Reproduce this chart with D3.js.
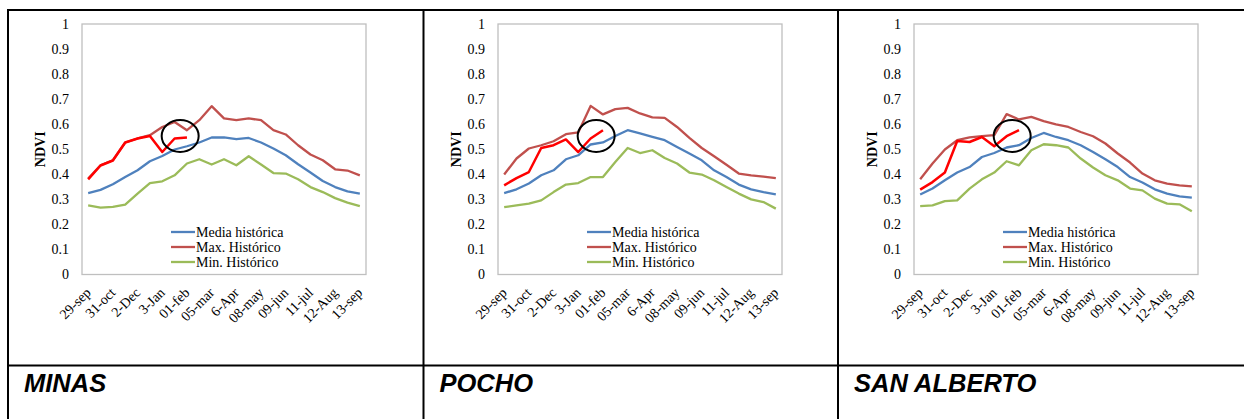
<!DOCTYPE html>
<html>
<head>
<meta charset="utf-8">
<script src="https://cdn.jsdelivr.net/npm/d3@7/dist/d3.min.js"></script>
<style>
  html, body { margin: 0; padding: 0; background: #fff; }
  svg { display: block; }
</style>
</head>
<body>
<svg id="chart" width="1244" height="419"></svg>
<script>
// ---- Data ----
const tickLabels = ["29-sep","31-oct","2-Dec","3-Jan","01-feb","05-mar","6-Apr","08-may","09-jun","11-jul","12-Aug","13-sep"];
const yTicks = [0,0.1,0.2,0.3,0.4,0.5,0.6,0.7,0.8,0.9,1];
const panelNames = ["MINAS","POCHO","SAN ALBERTO"];
const seriesNames = ["Media histórica","Max. Histórico","Min. Histórico"];

const minasMedia = [0.325,0.338,0.360,0.389,0.416,0.452,0.473,0.499,0.512,0.527,0.547,0.547,0.540,0.545,0.527,0.503,0.476,0.440,0.407,0.373,0.349,0.332,0.323];
const minasMax   = [0.383,0.436,0.456,0.527,0.543,0.556,0.589,0.609,0.576,0.616,0.672,0.623,0.616,0.623,0.616,0.576,0.559,0.516,0.479,0.456,0.420,0.415,0.396];
const minasMin   = [0.276,0.267,0.270,0.279,0.323,0.365,0.372,0.396,0.443,0.460,0.439,0.460,0.436,0.472,0.439,0.405,0.403,0.380,0.349,0.329,0.305,0.287,0.273];
const minasActual= [0.380,0.435,0.455,0.527,0.543,0.553,0.489,0.543,0.547];

const pochoMedia = [0.325,0.340,0.363,0.396,0.416,0.460,0.476,0.519,0.527,0.553,0.576,0.563,0.549,0.536,0.509,0.483,0.456,0.416,0.389,0.359,0.340,0.329,0.320];
const pochoMax   = [0.399,0.463,0.503,0.516,0.532,0.560,0.567,0.673,0.639,0.660,0.665,0.643,0.627,0.625,0.589,0.545,0.505,0.472,0.438,0.403,0.396,0.391,0.385];
const pochoMin   = [0.269,0.276,0.283,0.296,0.329,0.359,0.365,0.389,0.389,0.449,0.505,0.485,0.496,0.465,0.443,0.407,0.399,0.376,0.349,0.323,0.300,0.289,0.263];
const pochoActual= [0.356,0.385,0.409,0.505,0.516,0.539,0.489,0.543,0.576];

const sanAlbertoMedia = [0.319,0.343,0.376,0.407,0.429,0.469,0.485,0.507,0.516,0.545,0.565,0.549,0.536,0.516,0.489,0.460,0.429,0.389,0.367,0.340,0.323,0.312,0.307];
const sanAlbertoMax   = [0.380,0.443,0.499,0.536,0.547,0.552,0.556,0.640,0.619,0.629,0.612,0.599,0.589,0.569,0.552,0.523,0.483,0.447,0.403,0.376,0.363,0.356,0.352];
const sanAlbertoMin   = [0.273,0.276,0.293,0.296,0.343,0.380,0.407,0.452,0.436,0.496,0.520,0.516,0.507,0.463,0.427,0.396,0.376,0.343,0.336,0.303,0.283,0.280,0.252];
const sanAlbertoActual= [0.339,0.369,0.407,0.533,0.529,0.549,0.512,0.552,0.576];

// annotation ellipse (category index, NDVI value)
const circleAt = [7.45, 0.553];

// ---- Layout / style ----
const panels = [
  {name: panelNames[0], left: 82,  media: minasMedia, max: minasMax, min: minasMin, actual: minasActual},
  {name: panelNames[1], left: 498, media: pochoMedia, max: pochoMax, min: pochoMin, actual: pochoActual},
  {name: panelNames[2], left: 914, media: sanAlbertoMedia, max: sanAlbertoMax, min: sanAlbertoMin, actual: sanAlbertoActual}
];
const cellLefts = [8, 423.5, 838];
const colors = {media: "#4f81bd", max: "#c0504d", min: "#9bbb59", actual: "#ff0000"};
const plotW = 284, plotTop = 24, plotBottom = 274.5;
const serif = "'Liberation Serif','Times New Roman',serif";
const sans = "'Liberation Sans',Arial,sans-serif";

const svg = d3.select("#chart");

// table borders
const tbl = svg.append("g").attr("stroke", "#000").attr("stroke-width", 2);
tbl.append("line").attr("x1", 7).attr("x2", 1244).attr("y1", 10).attr("y2", 10);
tbl.append("line").attr("x1", 7).attr("x2", 1244).attr("y1", 365.5).attr("y2", 365.5);
cellLefts.forEach(x => tbl.append("line").attr("x1", x).attr("x2", x).attr("y1", 9).attr("y2", 419));

const n = minasMedia.length;
const y = d3.scaleLinear().domain([0, 1]).range([plotBottom, plotTop]);

panels.forEach((p, pi) => {
  const x = d3.scaleLinear().domain([-0.5, n - 0.5]).range([p.left, p.left + plotW]);
  const g = svg.append("g");

  // plot frame
  g.append("rect").attr("x", p.left).attr("y", plotTop)
    .attr("width", plotW).attr("height", plotBottom - plotTop)
    .attr("fill", "none").attr("stroke", "#bfbfbf").attr("stroke-width", 1.3);

  // y axis
  const yAxis = d3.axisLeft(y).tickValues(yTicks).tickSize(0).tickPadding(13)
    .tickFormat(d => d === 0 ? "0" : d === 1 ? "1" : d3.format(".1f")(d));
  const ya = g.append("g").attr("transform", `translate(${p.left},0)`).call(yAxis);
  ya.select(".domain").remove();
  ya.selectAll("text").attr("font-family", serif).attr("font-size", 14).attr("fill", "#000");

  // y title
  g.append("text")
    .attr("transform", `translate(${p.left - 37},${(plotTop + plotBottom) / 2}) rotate(-90)`)
    .attr("text-anchor", "middle")
    .attr("font-family", serif).attr("font-size", 14).attr("font-weight", "bold")
    .text("NDVI");

  // x axis
  const xAxis = d3.axisBottom(x).tickValues(d3.range(0, n, 2)).tickSize(0)
    .tickFormat((d, i) => tickLabels[i]);
  const xa = g.append("g").attr("transform", `translate(0,${plotBottom})`).call(xAxis);
  xa.select(".domain").remove();
  xa.selectAll("text")
    .attr("font-family", serif).attr("font-size", 14).attr("fill", "#000")
    .attr("text-anchor", "end")
    .attr("y", 0).attr("dy", 0)
    .attr("transform", "translate(3,19) rotate(-45)");

  // lines
  const line = d3.line().x((d, i) => x(i)).y(d => y(d));
  [["min", p.min], ["max", p.max], ["media", p.media]].forEach(([k, vals]) => {
    g.append("path").datum(vals).attr("d", line)
      .attr("fill", "none").attr("stroke", colors[k]).attr("stroke-width", 2.3)
      .attr("stroke-linejoin", "round");
  });
  g.append("path").datum(p.actual).attr("d", line)
    .attr("fill", "none").attr("stroke", colors.actual).attr("stroke-width", 2.5)
    .attr("stroke-linejoin", "round");

  // ellipse annotation
  g.append("ellipse")
    .attr("cx", x(circleAt[0])).attr("cy", y(circleAt[1]))
    .attr("rx", 18.5).attr("ry", 16)
    .attr("fill", "none").attr("stroke", "#000").attr("stroke-width", 2);

  // legend
  const lg = g.append("g").attr("transform", `translate(${p.left + 89},${232})`);
  ["media", "max", "min"].forEach((k, i) => {
    const row = lg.append("g").attr("transform", `translate(0,${i * 15})`);
    row.append("line").attr("x1", 0).attr("x2", 24).attr("y1", 0).attr("y2", 0)
      .attr("stroke", colors[k]).attr("stroke-width", 2.3);
    row.append("text").attr("x", 25).attr("y", 0).attr("dy", "0.33em")
      .attr("font-family", serif).attr("font-size", 14).text(seriesNames[i]);
  });

  // cell title
  svg.append("text")
    .attr("x", cellLefts[pi] + 16).attr("y", 392)
    .attr("font-family", sans).attr("font-size", 25.5)
    .attr("font-weight", "bold").attr("font-style", "italic")
    .text(p.name);
});
</script>
</body>
</html>
